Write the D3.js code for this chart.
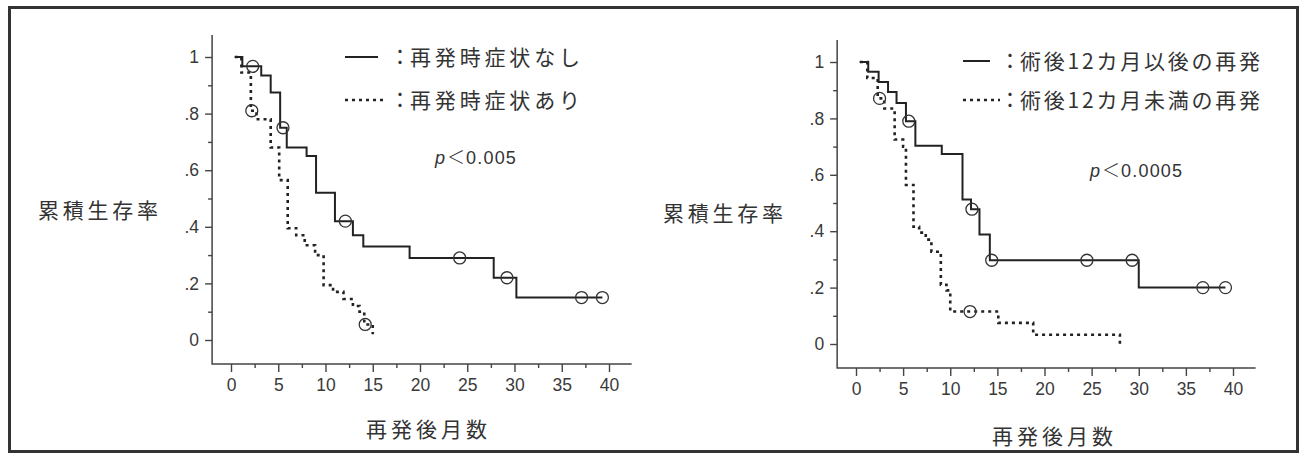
<!DOCTYPE html>
<html>
<head>
<meta charset="utf-8">
<script src="https://cdn.jsdelivr.net/npm/d3@7"></script>
<style>
  body { margin: 0; background: #fff; }
  svg { display: block; }
  .tick text { font-family: "Liberation Sans", Arial, sans-serif; font-size: 17.5px; fill: #3a3a3a; }
  .jp { font-family: "Noto Sans CJK JP", sans-serif; fill: #333; }
</style>
</head>
<body>
<div id="chart"></div>
<script>
// axis ticks
var yTicks = [0, 0.2, 0.4, 0.6, 0.8, 1]
var yTickLabels = ["0", ".2", ".4", ".6", ".8", "1"]
var yMinor = [0.1, 0.3, 0.5, 0.7, 0.9]
var xTicks = [0, 5, 10, 15, 20, 25, 30, 35, 40]
var xMinor = [2.5, 7.5, 12.5, 17.5, 22.5, 27.5, 32.5, 37.5]

// left panel: 再発時症状なし (solid)
var noSymTimes = [0.4, 1.2, 3.2, 4.2, 5.2, 5.9, 8.0, 9.0, 11.0, 12.9, 14.0, 18.9, 27.8, 30.2, 39.3]
var noSymSurv = [1, 0.967, 0.935, 0.875, 0.75, 0.68, 0.65, 0.52, 0.42, 0.37, 0.33, 0.29, 0.22, 0.15, 0.15]
var noSymCensor = [2.3, 5.5, 12.1, 24.2, 29.2, 37.1, 39.3]
// left panel: 再発時症状あり (dotted)
var symTimes = [0.4, 1.1, 2.1, 2.7, 4.2, 5.1, 6.0, 6.9, 7.8, 8.9, 9.8, 10.8, 11.9, 12.9, 13.6, 14.1, 15.0]
var symSurv = [1, 0.945, 0.81, 0.78, 0.68, 0.565, 0.395, 0.37, 0.335, 0.30, 0.194, 0.17, 0.145, 0.12, 0.10, 0.055, 0.02]
var symCensor = [2.2, 14.2]

// right panel: 術後12カ月以後の再発 (solid)
var lateTimes = [0.4, 1.3, 2.4, 3.4, 4.3, 5.3, 6.3, 9.1, 11.3, 12.2, 13.1, 14.2, 30.0, 39.2]
var lateSurv = [1, 0.965, 0.929, 0.894, 0.855, 0.79, 0.703, 0.674, 0.512, 0.478, 0.388, 0.297, 0.2, 0.2]
var lateCensor = [5.6, 12.3, 14.4, 24.5, 29.3, 36.8, 39.2]
// right panel: 術後12カ月未満の再発 (dotted)
var earlyTimes = [0.4, 1.2, 2.3, 3.0, 4.1, 5.0, 5.3, 6.1, 6.7, 7.4, 8.0, 9.0, 9.6, 10.0, 15.1, 18.8, 28.0]
var earlySurv = [1, 0.943, 0.871, 0.835, 0.725, 0.70, 0.564, 0.416, 0.395, 0.37, 0.327, 0.21, 0.19, 0.115, 0.075, 0.033, 0.0]
var earlyCensor = [2.5, 12.1]

var W = 1303, H = 455
var svg = d3.select("#chart").append("svg")
  .attr("width", W).attr("height", H)

// outer frame
svg.append("rect")
  .attr("x", 9.5).attr("y", 7.5).attr("width", 1288).attr("height", 444)
  .attr("fill", "none").attr("stroke", "#333").attr("stroke-width", 3)

function stepValue(times, surv, t) {
  var i = d3.bisectRight(times, t) - 1
  return surv[Math.max(i, 0)]
}

var drawPanel = function (p) {
  var x = d3.scaleLinear().domain([0, 40]).range(p.xr)
  var y = d3.scaleLinear().domain([0, 1]).range(p.yr)
  var g = svg.append("g")
  var x0 = x(-2), x1 = x(42.4), yb = y(-0.085), yt = y(1.078)

  // L-shaped axis frame
  g.append("path")
    .attr("d", "M" + x0 + "," + yt + "V" + yb + "H" + x1)
    .attr("fill", "none").attr("stroke", "#444").attr("stroke-width", 1.5)

  g.append("g").attr("transform", "translate(" + x0 + ",0)")
    .call(d3.axisLeft(y).tickValues(yTicks).tickSize(7).tickPadding(6)
      .tickFormat(function (d, i) { return yTickLabels[i] }))
  g.append("g").attr("transform", "translate(" + x0 + ",0)")
    .call(d3.axisLeft(y).tickValues(yMinor).tickSize(4).tickFormat(""))
  g.append("g").attr("transform", "translate(0," + yb + ")")
    .call(d3.axisBottom(x).tickValues(xTicks).tickSize(8).tickPadding(7))
  g.append("g").attr("transform", "translate(0," + yb + ")")
    .call(d3.axisBottom(x).tickValues(xMinor).tickSize(4).tickFormat(""))
  g.selectAll(".domain").remove()
  g.selectAll(".tick line").attr("stroke", "#444").attr("stroke-width", 1.4)

  var line = d3.line()
    .x(function (d) { return x(d[0]) })
    .y(function (d) { return y(d[1]) })
    .curve(d3.curveStepAfter)

  p.series.forEach(function (s) {
    var pts = s.times.map(function (t, i) { return [t, s.surv[i]] })
    g.append("path")
      .attr("d", line(pts))
      .attr("fill", "none")
      .attr("stroke", "#222")
      .attr("stroke-width", s.dotted ? 2.6 : 2)
      .attr("stroke-dasharray", s.dotted ? "3,4" : null)
    g.selectAll(null).data(s.censor).enter().append("circle")
      .attr("cx", function (d) { return x(d) })
      .attr("cy", function (d) { return y(stepValue(s.times, s.surv, d)) })
      .attr("r", 6)
      .attr("fill", "none").attr("stroke", "#333").attr("stroke-width", 1.3)
  })

  // legend
  p.series.forEach(function (s, i) {
    var ly = p.legY[i]
    g.append("line")
      .attr("x1", p.legX).attr("x2", p.legX + (s.dotted ? p.legLen[1] : p.legLen[0]))
      .attr("y1", ly).attr("y2", ly)
      .attr("stroke", "#222").attr("stroke-width", s.dotted ? 2.6 : 2)
      .attr("stroke-dasharray", s.dotted ? "3,4" : null)
    g.append("text").attr("class", "jp")
      .attr("x", p.colonX).attr("y", ly + 7).attr("font-size", 21)
      .attr("text-anchor", "middle").text("：")
    g.append("text").attr("class", "jp")
      .attr("x", p.textX).attr("y", ly + 7.5).attr("font-size", 21)
      .attr("textLength", p.textLen).attr("lengthAdjust", "spacing")
      .text(s.name)
  })

  // p value
  var pt = g.append("text")
    .attr("x", p.pX).attr("y", p.pY)
    .attr("font-family", "Liberation Sans, Arial, sans-serif")
    .attr("font-size", 18).attr("fill", "#333")
  pt.append("tspan").attr("font-style", "italic").text("p")
  pt.append("tspan").attr("dx", 2).attr("font-family", "Noto Sans CJK JP").attr("font-weight", 300).text("＜")
  pt.append("tspan").attr("dx", 1).attr("letter-spacing", 1.2).text(p.pText)

  // axis titles
  g.append("text").attr("class", "jp")
    .attr("x", p.yLabX).attr("y", p.yLabY).attr("font-size", 21)
    .attr("textLength", 120).attr("lengthAdjust", "spacing")
    .text("累積生存率")
  g.append("text").attr("class", "jp")
    .attr("x", p.xLabX).attr("y", p.xLabY).attr("font-size", 21)
    .attr("textLength", 121).attr("lengthAdjust", "spacing")
    .text("再発後月数")
}

drawPanel({
  xr: [231, 609], yr: [340, 57],
  series: [
    { name: "再発時症状なし", times: noSymTimes, surv: noSymSurv, censor: noSymCensor, dotted: false },
    { name: "再発時症状あり", times: symTimes, surv: symSurv, censor: symCensor, dotted: true }
  ],
  legX: 345, legLen: [33, 42], legY: [57, 100], colonX: 400, textX: 410, textLen: 170,
  pX: 435, pY: 164, pText: "0.005",
  yLabX: 38, yLabY: 218, xLabX: 366, xLabY: 437
})

drawPanel({
  xr: [856, 1233], yr: [344, 62],
  series: [
    { name: "術後12カ月以後の再発", times: lateTimes, surv: lateSurv, censor: lateCensor, dotted: false },
    { name: "術後12カ月未満の再発", times: earlyTimes, surv: earlySurv, censor: earlyCensor, dotted: true }
  ],
  legX: 963, legLen: [27, 37], legY: [61, 100], colonX: 1010, textX: 1020, textLen: 240,
  pX: 1090, pY: 177, pText: "0.0005",
  yLabX: 663, yLabY: 221, xLabX: 992, xLabY: 444
})
</script>
</body>
</html>
